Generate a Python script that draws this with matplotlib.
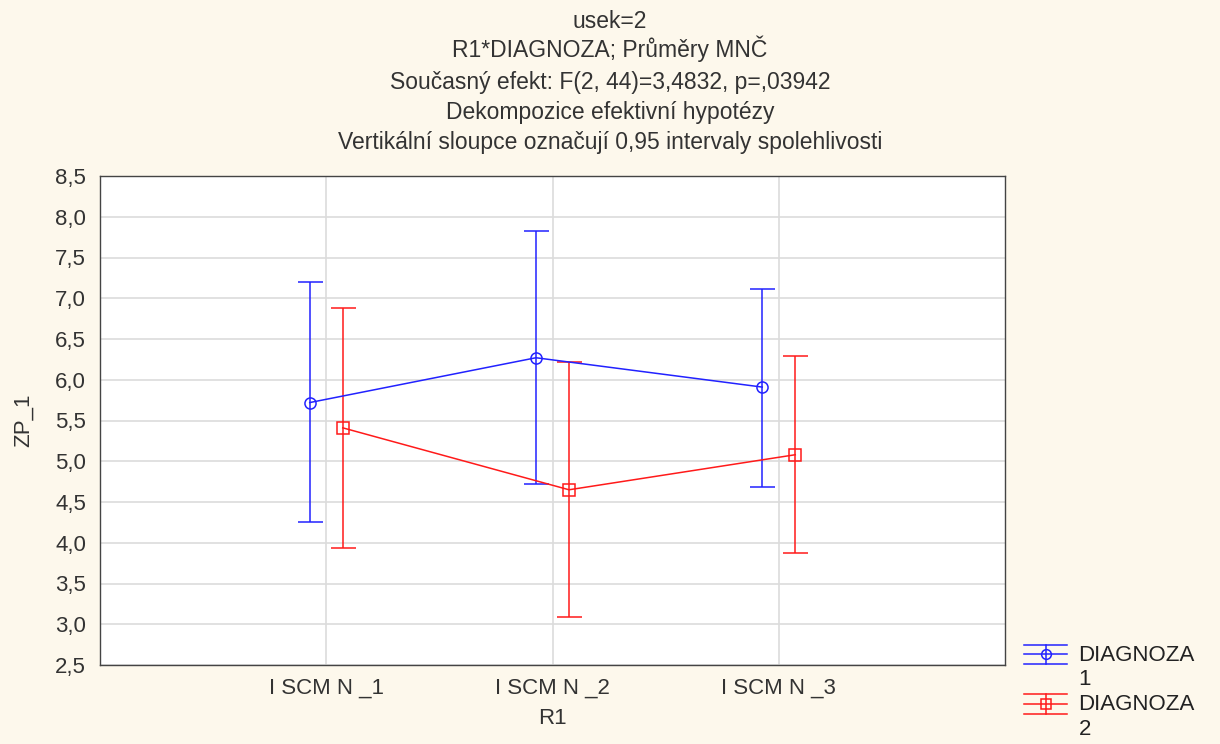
import matplotlib
matplotlib.use("Agg")
import matplotlib.pyplot as plt
import matplotlib.ticker as tkr
from matplotlib.lines import Line2D
from matplotlib.legend_handler import HandlerBase

plt.rcParams["font.family"] = ["Liberation Sans", "DejaVu Sans"]

categories = ["I SCM N _1", "I SCM N _2", "I SCM N _3"]
diag1_mean = [5.72, 6.27, 5.91]
diag1_low = [4.26, 4.72, 4.68]
diag1_high = [7.20, 7.83, 7.11]
diag2_mean = [5.41, 4.65, 5.08]
diag2_low = [3.94, 3.09, 3.87]
diag2_high = [6.88, 6.22, 6.29]
series_names = ["DIAGNOZA\n1", "DIAGNOZA\n2"]

title_lines = ["usek=2",
               "R1*DIAGNOZA; Průměry MNČ",
               "Současný efekt: F(2, 44)=3,4832, p=,03942",
               "Dekompozice efektivní hypotézy",
               "Vertikální sloupce označují 0,95 intervaly spolehlivosti"]
title_y = [22, 49, 82, 112, 142]  # pixel rows from top

W, H = 1220, 744
TXT = "#333333"
FS = 16


def comma(x, pos):
    return "{:.1f}".format(x).replace(".", ",")


class ErrHandle(HandlerBase):
    # statistica-like legend key: three horizontal bars, a stem and the marker
    def create_artists(self, legend, orig, xd, yd, width, height, fontsize, trans):
        c = orig.get_color()
        mk = orig.get_marker()
        yc = height / 2 - yd + 0.6 * fontsize
        xc = width / 2 - xd
        dy = 7
        arts = []
        for y in (yc - dy, yc, yc + dy):
            arts.append(Line2D([-xd, width - xd], [y, y], color=c, lw=1.1))
        arts.append(Line2D([xc, xc], [yc - dy, yc + dy], color=c, lw=1.1))
        arts.append(Line2D([xc], [yc], marker=mk, markersize=7,
                           markerfacecolor="none", markeredgecolor=c,
                           markeredgewidth=1.1, ls="none"))
        for a in arts:
            a.set_transform(trans)
        return arts


bg = "#fdf8ec"
fig = plt.figure(figsize=(W / 100, H / 100), dpi=100, facecolor=bg)
ax = fig.add_axes([100 / W, 1 - 665 / H, 905 / W, 489 / H])
ax.set_facecolor("white")

xs = [1, 2, 3]
offset = 0.073
proxies = []
for mean, low, high, col, mk, sgn in [
    (diag1_mean, diag1_low, diag1_high, "#2222ff", "o", -1),
    (diag2_mean, diag2_low, diag2_high, "#ff1a1a", "s", 1),
]:
    x = [v + sgn * offset for v in xs]
    err = [[m - l for m, l in zip(mean, low)], [h - m for m, h in zip(mean, high)]]
    ax.errorbar(x, mean, yerr=err, color=col, marker=mk, markersize=8,
                markerfacecolor="none", markeredgewidth=1.1, lw=1.1,
                elinewidth=1.1, capsize=9, capthick=1.1, zorder=3)
    proxies.append(Line2D([], [], color=col, marker=mk))

ax.set_xlim(0, 4)
ax.set_ylim(2.5, 8.5)
ax.set_xticks(xs)
ax.set_xticklabels(categories)
ax.set_yticks([2.5 + 0.5 * i for i in range(13)])
ax.yaxis.set_major_formatter(tkr.FuncFormatter(comma))
ax.grid(True, color="#dcdcdc", lw=1.2)
ax.set_axisbelow(True)
ax.tick_params(labelsize=FS, length=0, colors=TXT)
ax.tick_params(axis="y", pad=10)
ax.tick_params(axis="x", pad=9)
for s in ax.spines.values():
    s.set_color("#444444")
    s.set_linewidth(1.0)

ax.set_xlabel("R1", fontsize=FS, color=TXT)
ax.set_ylabel("ZP_1", fontsize=FS, color=TXT)
ax.xaxis.set_label_coords(0.5, -(719 - 665) / 489, transform=ax.transAxes)
ax.xaxis.label.set_va("center")
ax.yaxis.set_label_coords(-(100 - 23) / 905, 0.5)
ax.yaxis.label.set_va("center")

for line, yp in zip(title_lines, title_y):
    fig.text(0.5, 1 - yp / H, line, ha="center", va="center",
             fontsize=16.5, color=TXT)

leg = fig.legend(handles=proxies, labels=series_names, loc="upper left",
                 bbox_to_anchor=(1024 / W, 1 - 645 / H), frameon=False,
                 fontsize=FS, handler_map={Line2D: ErrHandle()},
                 handlelength=1.95, handletextpad=0.5, labelspacing=0.19,
                 borderaxespad=0, borderpad=0)
for t in leg.get_texts():
    t.set_color("#222222")

fig.savefig("out.png", dpi=100, facecolor=bg)
